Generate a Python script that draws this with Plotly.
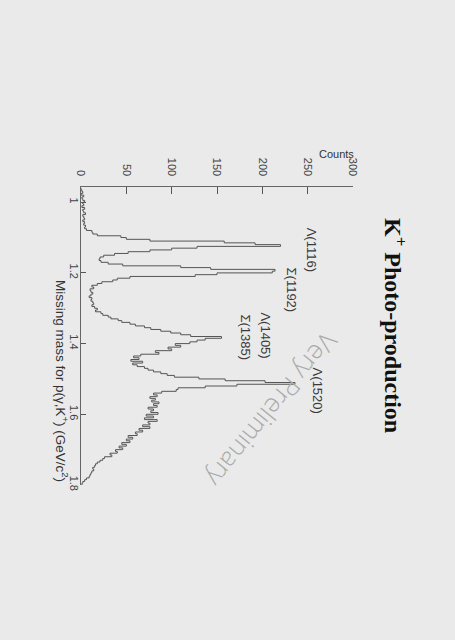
import numpy as np
import plotly.graph_objects as go

# ---- data (5 MeV bins) ----
bin_start = 0.960
bin_width = 0.005
counts = [
    0, 1, 2, 0, 3, 1, 2, 4, 2, 3,
    1, 4, 2, 3, 5, 2, 3, 4, 2, 4,
    3, 5, 4, 6, 12, 13, 18, 44, 50, 76,
    158, 192, 220, 128, 100, 76, 52, 37, 25, 21,
    20, 22, 30, 46, 110, 143, 214, 211, 150, 126,
    54, 40, 35, 23, 18, 12, 14, 10, 11, 13,
    11, 9, 12, 11, 13, 14, 12, 15, 18, 16,
    22, 24, 30, 33, 41, 45, 54, 60, 70, 77,
    88, 99, 110, 121, 155, 137, 128, 120, 104, 110,
    96, 100, 82, 86, 66, 58, 64, 55, 68, 57,
    62, 70, 74, 80, 88, 95, 103, 130, 159, 203,
    236, 172, 137, 107, 105, 89, 80, 84, 76, 82,
    78, 86, 80, 84, 74, 80, 77, 85, 72, 80,
    70, 84, 74, 76, 68, 76, 64, 68, 60, 62,
    52, 57, 50, 54, 45, 50, 42, 46, 38, 40,
    32, 34, 26, 24, 21, 18, 16, 15, 13, 14,
    12, 11, 10, 9, 6, 4, 2, 1,
]
mass_ticks = [1.0, 1.2, 1.4, 1.6, 1.8]
mass_tick_labels = ["1", "1.2", "1.4", "1.6", "1.8"]
count_ticks = [0, 50, 100, 150, 200, 250, 300]
peak_labels = ["Λ(1116)", "Σ(1192)", "Λ(1405)", "Σ(1385)", "Λ(1520)"]
peak_label_counts = [254, 232, 203, 181, 261]
peak_label_mass = [1.135, 1.248, 1.377, 1.383, 1.532]

edges = bin_start + bin_width * np.arange(len(counts) + 1)
xs = counts + [counts[-1]]

fig = go.Figure()
fig.add_trace(go.Scatter(
    x=xs, y=edges, mode="lines", line_shape="vh",
    line=dict(color="#555555", width=1), hoverinfo="skip", showlegend=False,
))

bg = "#eaeaea"
tick_font = dict(family="Liberation Sans, Arial, sans-serif", size=11, color="#444444")

fig.update_layout(
    width=455, height=640,
    margin=dict(l=81, r=102, t=187, b=155),
    paper_bgcolor=bg, plot_bgcolor=bg,
    showlegend=False,
    xaxis=dict(
        range=[0, 300], side="top", tickvals=count_ticks, tickangle=90,
        ticks="inside", ticklen=7, tickcolor="#555555",
        showline=True, linecolor="#666666", linewidth=1,
        showgrid=False, zeroline=False, tickfont=tick_font,
        ticklabelstandoff=6,
    ),
    yaxis=dict(
        range=[1.8, 0.957], tickvals=mass_ticks, ticktext=mass_tick_labels,
        tickangle=90, ticks="inside", ticklen=5, tickcolor="#555555",
        showline=True, linecolor="#666666", linewidth=1,
        showgrid=False, zeroline=False, tickfont=tick_font,
        ticklabelstandoff=-3,
    ),
)

ann_font = dict(family="Liberation Sans, Arial, sans-serif", size=13, color="#3a3a3a")
for t, c, m in zip(peak_labels, peak_label_counts, peak_label_mass):
    fig.add_annotation(x=c, y=m, xref="x", yref="y", text=t, showarrow=False,
                       textangle=90, font=ann_font, xanchor="center", yanchor="middle")

# title
fig.add_annotation(
    x=(395 - 81) / 272, y=(485 - 325) / 298, xref="paper", yref="paper",
    xanchor="center", yanchor="middle",
    text="<b>K<sup>+</sup> Photo-production</b>", showarrow=False, textangle=90,
    font=dict(family="Liberation Serif, Times New Roman, serif", size=24, color="#111111"),
)
# axis titles
fig.add_annotation(
    x=(62 - 81) / 272, y=(485 - 381) / 298, xref="paper", yref="paper",
    xanchor="center", yanchor="middle",
    text="Missing mass for p(γ,K<sup>+</sup>) (GeV/c<sup>2</sup>)", showarrow=False,
    textangle=90, font=dict(family="Liberation Sans, Arial, sans-serif", size=13.5, color="#333333"),
)
fig.add_annotation(
    x=(336 - 81) / 272, y=(485 - 154) / 298, xref="paper", yref="paper",
    xanchor="center", yanchor="middle",
    text="Counts", showarrow=False,
    font=dict(family="Liberation Sans, Arial, sans-serif", size=11, color="#333333"),
)
# watermark
fig.add_annotation(
    x=(272 - 81) / 272, y=(485 - 410) / 298, xref="paper", yref="paper",
    xanchor="center", yanchor="middle",
    text="Very Preliminary", showarrow=False, textangle=129,
    font=dict(family="Open Sans, sans-serif", size=26, color="#ababab", weight=300),
)

fig.write_html("out.html", config={"displayModeBar": False},
               post_script="document.body.style.margin='0';")
